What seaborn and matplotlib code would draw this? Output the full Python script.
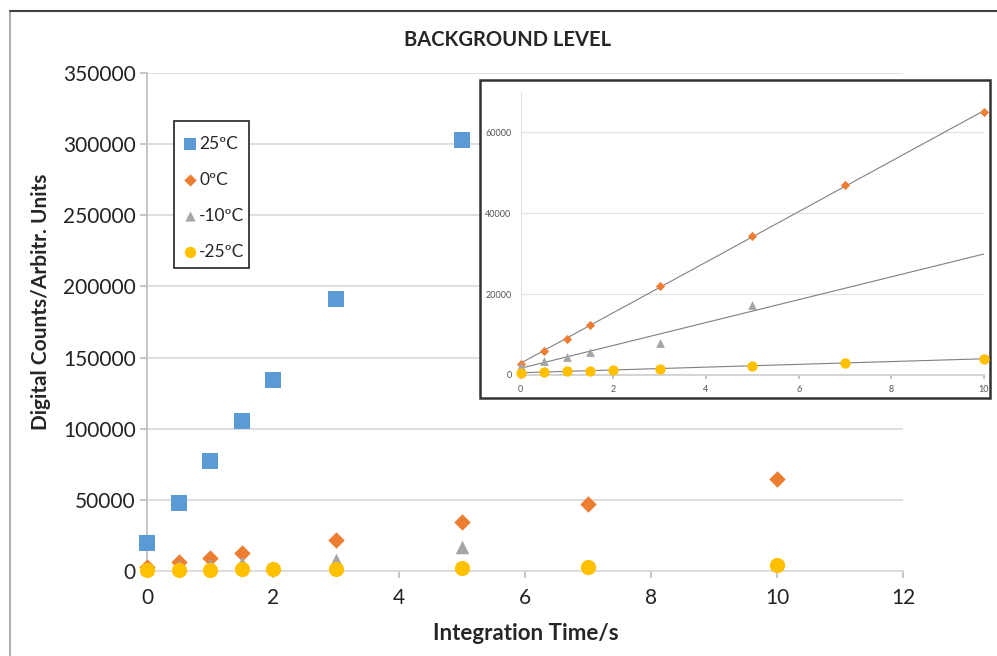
import matplotlib
matplotlib.use('Agg')
import matplotlib.pyplot as plt
import numpy as np
import pandas as pd
import seaborn as sns
from matplotlib.lines import Line2D
from matplotlib.patches import Rectangle

# data
t_25 = [0, 0.5, 1, 1.5, 2, 3, 5]
c_25 = [19500, 47500, 77200, 105300, 134500, 191000, 302800]
t_0 = [0, 0.5, 1, 1.5, 3, 5, 7, 10]
c_0 = [2700, 6000, 9000, 12300, 22000, 34300, 47000, 65000]
t_m10 = [0, 0.5, 1, 1.5, 3, 5]
c_m10 = [2300, 3500, 4500, 5800, 7800, 17200]
t_m25 = [0, 0.5, 1, 1.5, 2, 3, 5, 7, 10]
c_m25 = [600, 700, 900, 1100, 1200, 1600, 2300, 3000, 4000]

labels = ['25ºC', '0ºC', '-10ºC', '-25ºC']
colors = {'25ºC': '#5B9BD5', '0ºC': '#ED7D31', '-10ºC': '#A5A5A5', '-25ºC': '#FFC000'}
markers = {'25ºC': 's', '0ºC': 'D', '-10ºC': '^', '-25ºC': 'o'}

series = [(t_25, c_25), (t_0, c_0), (t_m10, c_m10), (t_m25, c_m25)]
df = pd.concat([pd.DataFrame({'time': t, 'counts': c, 'temp': lab})
                for (t, c), lab in zip(series, labels)], ignore_index=True)

sns.set_theme(style='white')
plt.rcParams['font.family'] = ['Lato', 'DejaVu Sans']

W, H = 997, 656
fig = plt.figure(figsize=(W / 100, H / 100), dpi=100)


def px_box(x0, y0, x1, y1):
    return [x0 / W, 1 - y1 / H, (x1 - x0) / W, (y1 - y0) / H]


# outer frame lines
fig.add_artist(Line2D([10 / W, 10 / W], [0, 1 - 11 / H], color='#A0A0A0', lw=1.2))
fig.add_artist(Line2D([10 / W, 1], [1 - 11 / H, 1 - 11 / H], color='#404040', lw=1.5))

# main chart
ax = fig.add_axes(px_box(147, 73, 903, 571))
sizes_main = {'25ºC': 140, '0ºC': 70, '-10ºC': 95, '-25ºC': 120}
for lab in labels:
    d = df[df.temp == lab]
    sns.scatterplot(data=d, x='time', y='counts', ax=ax, color=colors[lab],
                    marker=markers[lab], s=sizes_main[lab], linewidth=0,
                    clip_on=False, zorder=3, label=lab)
ax.set_xlim(0, 12)
ax.set_ylim(0, 350000)
ax.set_xticks(range(0, 13, 2))
ax.set_yticks(range(0, 350001, 50000))
ax.grid(True, axis='y', color='#D9D9D9', lw=1.2)
ax.grid(False, axis='x')
for s in ['top', 'right']:
    ax.spines[s].set_visible(False)
ax.spines['left'].set_color('#BFBFBF')
ax.spines['bottom'].set_color('#D9D9D9')
ax.spines['bottom'].set_linewidth(1.2)
ax.tick_params(axis='both', which='major', labelsize=15, colors='#222222',
               length=5, direction='out', bottom=True, left=True)
ax.tick_params(axis='x', color='#BFBFBF', pad=7)
ax.tick_params(axis='y', color='#BFBFBF', pad=3)
ax.set_xlabel('')
ax.set_ylabel('')
fig.text(526 / W, 1 - 633 / H, 'Integration Time/s', fontsize=16,
         fontweight='bold', ha='center', va='center')
fig.text(41 / W, 1 - 302 / H, 'Digital Counts/Arbitr. Units', fontsize=15,
         fontweight='bold', ha='center', va='center', rotation=90)
fig.text(508 / W, 1 - 40 / H, 'BACKGROUND LEVEL', fontsize=14.5,
         fontweight='bold', ha='center', va='center')

# legend with hand-placed frame
ax.add_patch(Rectangle((174 / W, 1 - 268 / H), 75 / W, 147 / H,
                       transform=fig.transFigure, facecolor='white',
                       edgecolor='#222222', lw=1.2, zorder=4, clip_on=False))
leg = ax.legend(loc='upper left', bbox_to_anchor=(181 / W, 1 - 136 / H),
                bbox_transform=fig.transFigure, frameon=False,
                fontsize=12.5, labelspacing=1.15,
                handletextpad=0.05, handlelength=1.0, borderpad=0,
                borderaxespad=0, markerscale=0.75)
leg.set_zorder(5)

# inset box
fig.add_artist(Rectangle((480 / W, 1 - 398 / H), 510 / W, 318 / H,
                         transform=fig.transFigure, facecolor='white',
                         edgecolor='#333333', lw=1.8, zorder=1))

ins = fig.add_axes(px_box(520.7, 92, 984, 375), zorder=2)
ins.set_facecolor('none')
ins.set_xlim(0, 10)
ins.set_ylim(0, 70000)
sizes_ins = {'0ºC': 22, '-10ºC': 40, '-25ºC': 55}
for lab in labels[1:]:
    d = df[df.temp == lab]
    sns.regplot(data=d, x='time', y='counts', ax=ins, scatter=False, ci=None,
                truncate=False, line_kws={'color': '#808080', 'lw': 0.8, 'zorder': 2})
    sns.scatterplot(data=d, x='time', y='counts', ax=ins, color=colors[lab],
                    marker=markers[lab], s=sizes_ins[lab], linewidth=0,
                    clip_on=False, zorder=3)
ins.set_xlim(0, 10)
ins.set_ylim(0, 70000)
ins.set_xticks(range(0, 11, 2))
ins.set_yticks([0, 20000, 40000, 60000])
ins.grid(True, axis='y', color='#E3E3E3', lw=0.9)
ins.grid(False, axis='x')
for s in ['top', 'right']:
    ins.spines[s].set_visible(False)
ins.spines['left'].set_color('#E0E0E0')
ins.spines['left'].set_linewidth(0.8)
ins.spines['bottom'].set_color('#CFCFCF')
ins.tick_params(axis='both', labelsize=6.5, colors='#555555', length=3,
                bottom=True, left=False)
ins.tick_params(axis='x', color='#BFBFBF', pad=4)
ins.set_xlabel('')
ins.set_ylabel('')

fig.savefig('out.png', dpi=100)
